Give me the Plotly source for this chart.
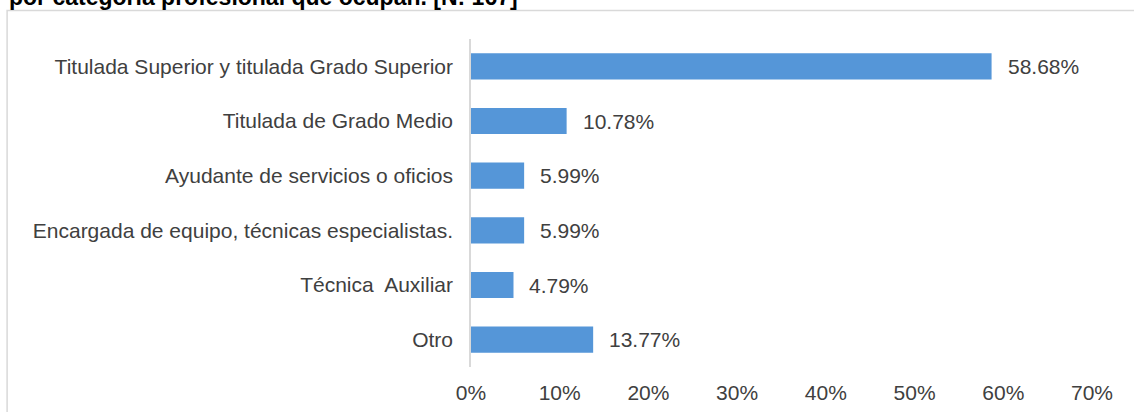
import plotly.graph_objects as go

categorias = [
    "Titulada Superior y titulada Grado Superior",
    "Titulada de Grado Medio",
    "Ayudante de servicios o oficios",
    "Encargada de equipo, técnicas especialistas.",
    "Técnica  Auxiliar",
    "Otro",
]
porcentajes = [58.68, 10.78, 5.99, 5.99, 4.79, 13.77]
ticks = [0, 10, 20, 30, 40, 50, 60, 70]
titulo = "por categoría profesional que ocupan. [N: 167]"

gris = "#404040"
fuente = "Liberation Sans, Arial, sans-serif"

fig = go.Figure()
fig.add_trace(go.Bar(
    x=porcentajes, y=categorias, orientation="h",
    marker=dict(color="#5596d8", line=dict(width=0)),
    width=0.48, hoverinfo="skip",
))

# etiquetas de valor
for v, c in zip(porcentajes, categorias):
    fig.add_annotation(x=v, y=c, text=f"{v:.2f}%", showarrow=False,
                       xanchor="left", xshift=14, font=dict(size=21, color=gris, family=fuente))

# titulo cortado arriba
fig.add_annotation(xref="paper", yref="paper", x=-0.747, y=1.128, xanchor="left", yanchor="middle",
                   text=f"<b>{titulo}</b>", showarrow=False,
                   font=dict(size=23, color="black", family=fuente))

# borde del grafico
fig.add_shape(type="rect", xref="paper", yref="paper", x0=-0.747, x1=1.2, y0=-0.3, y1=1.087,
              line=dict(color="#d9d9d9", width=1.5), fillcolor="rgba(0,0,0,0)", layer="below")

fig.update_layout(
    width=1134, height=412,
    margin=dict(l=471, r=42, t=39, b=45),
    paper_bgcolor="white", plot_bgcolor="white",
    showlegend=False,
    font=dict(family=fuente, size=21, color=gris),
)
fig.update_xaxes(range=[0, 70], tickvals=ticks, ticktext=[f"{t}%" for t in ticks],
                 showgrid=False, zeroline=False, showline=False, ticks="",
                 tickfont=dict(size=21, color=gris), ticklabelstandoff=11, automargin=False)
fig.update_yaxes(autorange="reversed", showgrid=False, zeroline=False,
                 showline=True, linecolor="#d9d9d9", linewidth=1.5, ticks="",
                 tickfont=dict(size=21, color=gris), ticklabelstandoff=12, automargin=False)

fig.write_html("out.html", config={"displayModeBar": False},
               post_script="document.body.style.margin='0';")
